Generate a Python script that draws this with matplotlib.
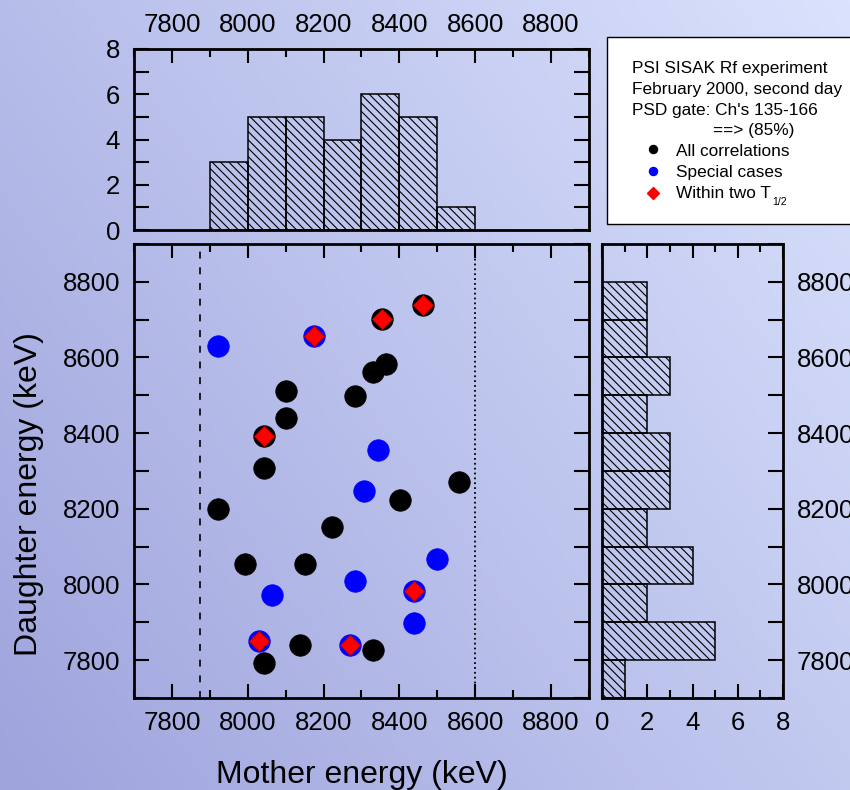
import numpy as np
import matplotlib
matplotlib.use('Agg')
import matplotlib.pyplot as plt
from matplotlib.ticker import MultipleLocator, FixedLocator
from matplotlib.patches import Rectangle
from matplotlib.lines import Line2D

plt.rcParams['font.family'] = ['Liberation Sans', 'DejaVu Sans']
plt.rcParams['hatch.linewidth'] = 0.8
plt.rcParams['hatch.color'] = 'black'
plt.rcParams['lines.scale_dashes'] = False

# ---------------- data ----------------
black_x = [8355, 8463, 8365, 8331, 8102, 8282, 8102, 8042, 8042, 8558,
           8402, 7921, 8222, 7994, 8150, 8138, 8331, 8042]
black_y = [8702, 8739, 8584, 8561, 8511, 8498, 8439, 8392, 8307, 8271,
           8223, 8199, 8151, 8054, 8054, 7840, 7827, 7792]
blue_x = [7921, 8174, 8343, 8306, 8499, 8282, 8439, 8065, 8439, 8030, 8270]
blue_y = [8631, 8656, 8356, 8247, 8067, 8008, 7982, 7971, 7899, 7851, 7840]
red_x = [8174, 8355, 8463, 8042, 8439, 8030, 8270]
red_y = [8656, 8702, 8739, 8392, 7982, 7851, 7840]

top_bin_left = [7900, 8000, 8100, 8200, 8300, 8400, 8500]
top_counts = [3, 5, 5, 4, 6, 5, 1]
right_bin_bottom = [8700, 8600, 8500, 8400, 8300, 8200, 8100, 8000, 7900, 7800, 7700]
right_counts = [2, 2, 3, 2, 3, 3, 2, 4, 2, 5, 1]
bin_width = 100

dashed_x = 7875
dotted_x = 8600

energy_ticks = [7800, 8000, 8200, 8400, 8600, 8800]
count_ticks = [0, 2, 4, 6, 8]

legend_lines = ["PSI SISAK Rf experiment", "February 2000, second day",
                "PSD gate: Ch's 135-166", "==> (85%)"]
legend_entries = ["All correlations", "Special cases", "Within two T"]

# ---------------- figure ----------------
W, H = 850, 790
fig = plt.figure(figsize=(W / 100, H / 100), dpi=100)

# gradient background
bg = fig.add_axes([0, 0, 1, 1], zorder=-10)
gx, gy = np.meshgrid(np.linspace(0, 1, 200), np.linspace(0, 1, 200))
t = 0.6 * gx + 0.4 * gy  # gy=1 at top (origin lower)
dark = np.array([158, 164, 220]) / 255
light = np.array([218, 226, 253]) / 255
img = dark[None, None, :] + (light - dark)[None, None, :] * t[..., None]
bg.imshow(img, origin='lower', extent=[0, 1, 0, 1], aspect='auto')
bg.set_axis_off()


def fx(px):
    return px / W


def fy(py):
    return 1 - py / H


SPINE_LW = 2.0
TICK_W = 1.5
LABEL_SIZE = 18.5

ax = fig.add_axes([fx(134), fy(698), fx(589) - fx(134), fy(244) - fy(698)])
axt = fig.add_axes([fx(134), fy(230), fx(589) - fx(134), fy(49) - fy(230)])
axr = fig.add_axes([fx(602), fy(698), fx(783) - fx(602), fy(244) - fy(698)])

for a in (ax, axt, axr):
    a.set_facecolor('none')
    for s in a.spines.values():
        s.set_linewidth(SPINE_LW)

# ---- main scatter ----
ax.set_xlim(7700, 8900)
ax.set_ylim(7700, 8900)
ax.axvline(dashed_x, color='black', lw=1.2, linestyle=(0, (5, 6.3)), zorder=1)
ax.axvline(dotted_x, color='black', lw=1.3, linestyle=(0, (1.3, 2.2)), zorder=1)
ax.plot(blue_x, blue_y, 'o', color='#0000ff', ms=15.5, mec='#0000ff', mew=0.5, zorder=3)
ax.plot(black_x, black_y, 'o', color='black', ms=15.5, mec='black', mew=0.5, zorder=3)
ax.plot(red_x, red_y, 'D', color='#ff0000', ms=10.3, mec='#c00000', mew=0.7, zorder=4)

ax.xaxis.set_major_locator(FixedLocator(energy_ticks))
ax.xaxis.set_minor_locator(MultipleLocator(100))
ax.yaxis.set_major_locator(FixedLocator(energy_ticks))
ax.yaxis.set_minor_locator(MultipleLocator(100))
ax.tick_params(which='both', direction='in', top=True, right=True, width=TICK_W,
               labelsize=LABEL_SIZE)
ax.tick_params(axis='x', which='major', length=10, pad=9)
ax.tick_params(axis='x', which='minor', length=5.8)
ax.tick_params(axis='y', which='both', length=10.5, pad=10)

# ---- top histogram ----
axt.set_xlim(7700, 8900)
axt.set_ylim(0, 8)
axt.bar(top_bin_left, top_counts, width=bin_width, align='edge', facecolor='none',
        edgecolor='black', linewidth=1.1, hatch='\\\\\\\\')
axt.xaxis.set_major_locator(FixedLocator(energy_ticks))
axt.xaxis.set_minor_locator(MultipleLocator(100))
axt.yaxis.set_major_locator(FixedLocator(count_ticks))
axt.yaxis.set_minor_locator(MultipleLocator(1))
axt.tick_params(which='both', direction='in', top=True, bottom=False, right=True,
                labeltop=True, labelbottom=False, width=TICK_W, labelsize=LABEL_SIZE)
axt.tick_params(axis='x', which='major', length=10, pad=9)
axt.tick_params(axis='x', which='minor', length=5.8)
axt.tick_params(axis='y', which='both', length=10.5, pad=10)

# ---- right histogram ----
axr.set_xlim(0, 8)
axr.set_ylim(7700, 8900)
axr.barh(right_bin_bottom, right_counts, height=bin_width, align='edge', facecolor='none',
         edgecolor='black', linewidth=1.1, hatch='\\\\\\\\')
axr.xaxis.set_major_locator(FixedLocator(count_ticks))
axr.xaxis.set_minor_locator(MultipleLocator(1))
axr.yaxis.set_major_locator(FixedLocator(energy_ticks))
axr.yaxis.set_minor_locator(MultipleLocator(100))
axr.tick_params(which='both', direction='in', top=True, left=False, right=True,
                labelleft=False, labelright=True, width=TICK_W, labelsize=LABEL_SIZE)
axr.tick_params(axis='x', which='major', length=10, pad=9)
axr.tick_params(axis='x', which='minor', length=5.8)
axr.tick_params(axis='y', which='both', length=10.5, pad=10)

# ---- axis labels ----
fig.text(fx(361.5), fy(783), "Mother energy (keV)", ha='center', va='baseline', fontsize=23)
fig.text(fx(29), fy(494), "Daughter energy (keV)", ha='center', va='center',
         rotation=90, fontsize=23)

# ---- legend box ----
fig.add_artist(Rectangle((fx(607), fy(224)), fx(300), 187 / H, transform=fig.transFigure,
                         facecolor='white', edgecolor='black', lw=1.0, zorder=5))
LFS = 12.4
for txt, base in zip(legend_lines[:3], [73, 94, 115]):
    fig.text(fx(632), fy(base), txt, fontsize=LFS, va='baseline', ha='left', zorder=6)
fig.text(fx(713), fy(135), legend_lines[3], fontsize=LFS, va='baseline', ha='left', zorder=6)

ybases = [156, 177, 198]
mcenters = [149.3, 171, 193.3]
marker_specs = [dict(marker='o', color='black', ms=5.8, mec='black'),
                dict(marker='o', color='#0000ff', ms=5.8, mec='#0000ff'),
                dict(marker='D', color='#ff0000', ms=6.0, mec='#ff0000')]
for txt, base, mc, spec in zip(legend_entries, ybases, mcenters, marker_specs):
    fig.add_artist(Line2D([fx(653)], [fy(mc)], transform=fig.transFigure, linestyle='none',
                          zorder=6, **spec))
    fig.text(fx(676), fy(base), txt, fontsize=LFS, va='baseline', ha='left', zorder=6)
fig.text(fx(772), fy(205), "1/2", fontsize=7.5, va='baseline', ha='left', zorder=6)

fig.savefig('out.png', dpi=100)
